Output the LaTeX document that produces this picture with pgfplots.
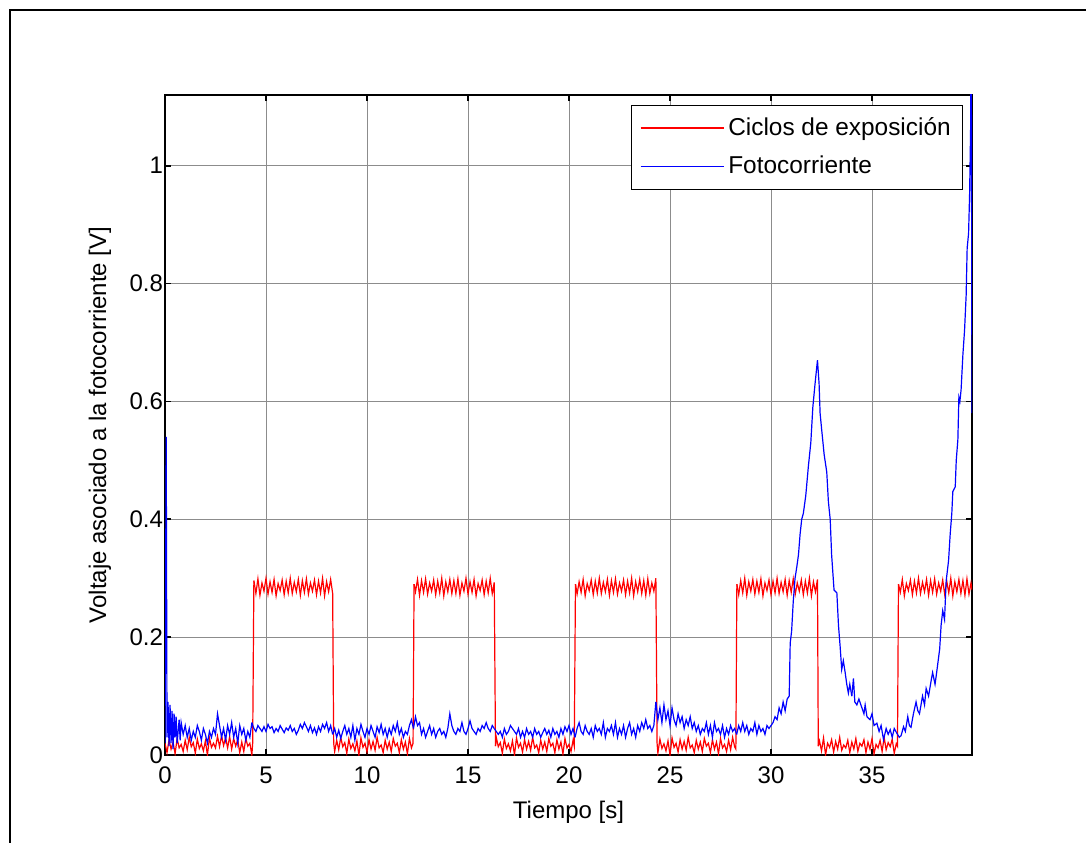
\documentclass[border=0pt]{standalone}
\usepackage{fontspec}
\setmainfont{Liberation Sans}
\usepackage{pgfplots}
\pgfplotsset{compat=1.18}
\pgfplotsset{
  rs/.style={color=red, line width=0.6pt, forget plot},
  bs/.style={color=blue, line width=0.6pt, forget plot},
}
\begin{document}
\begin{tikzpicture}
\useasboundingbox (-82.5pt,-43.5pt) rectangle (460.5pt,377.5pt);
\draw[line width=1pt] (-77.5pt,-60pt) -- (-77.5pt,372.5pt) -- (480pt,372.5pt);
\begin{axis}[
  at={(0pt,0pt)}, anchor=south west,
  scale only axis, width=403.5pt, height=330pt,
  xmin=0, xmax=39.95, ymin=0, ymax=1.12,
  xtick={0,5,10,15,20,25,30,35},
  ytick={0,0.2,0.4,0.6,0.8,1},
  /pgf/number format/assume math mode=true,
  /pgf/number format/fixed,
  tick label style={font=\fontsize{12}{14}\selectfont},
  xticklabel style={yshift=-2.5pt},
  yticklabel style={xshift=2.5pt},
  label style={font=\fontsize{12}{14}\selectfont},
  xlabel={Tiempo [s]},
  ylabel={Voltaje asociado a la fotocorriente [V]},
  xlabel style={at={(axis description cs:0.5,-0.0864)}, anchor=center},
  ylabel style={at={(axis description cs:-0.0805,0.5)}, anchor=center},
  grid=major,
  major grid style={black!45, line width=0.5pt},
  axis line style={black, line width=0.8pt},
  tick style={black, line width=0.8pt},
  major tick length=3pt,
  tick align=inside,
  legend style={at={(axis description cs:0.989,0.985)}, anchor=north east,
    fill=white, font=\fontsize{12.2}{14}\selectfont,
    inner xsep=4pt, inner ysep=4pt, row sep=5pt, cells={anchor=west}},
  legend image code/.code={\path (-2pt,0pt) -- (39.5pt,0pt); \draw[#1] (2.5pt,0pt) -- (39pt,0pt);},
]
\addlegendimage{color=red, line width=0.8pt}
\addlegendentry{Ciclos de exposición}
\addlegendimage{color=blue, line width=0.8pt}
\addlegendentry{Fotocorriente}
% Ciclos de exposicion (red)
\addplot[rs] coordinates {
(0.0,0.02)(0.1,0.004)(0.2,0.026)(0.3,0.01)(0.4,0.022)(0.5,0.002)(0.6,0.028)(0.7,0.012)(0.8,0.018)(0.9,0.006)
(1.0,0.025)(1.1,0.009)(1.2,0.03)(1.3,0.014)(1.4,0.021)(1.5,0.003)(1.6,0.027)(1.7,0.011)(1.8,0.019)(1.9,0.007)
(2.0,0.024)(2.1,0.0)(2.2,0.029)(2.3,0.013)(2.4,0.02)(2.5,0.012)(2.6,0.032)(2.7,0.014)(2.8,0.033)(2.9,0.016)
(3.0,0.03)(3.1,0.012)(3.2,0.031)(3.3,0.01)(3.4,0.028)(3.5,0.015)(3.6,0.026)(3.7,0.004)(3.8,0.022)(3.9,0.006)
(4.0,0.028)(4.1,0.015)(4.2,0.02)(4.3,0.0)(4.34,0.02)(4.4,0.296)};
\addplot[rs] coordinates {
(4.4,0.296)(4.5,0.274)(4.6,0.299)(4.7,0.271)(4.8,0.292)(4.9,0.278)(5.0,0.3)(5.1,0.273)(5.2,0.294)(5.3,0.276)
(5.4,0.298)(5.5,0.27)(5.6,0.291)(5.7,0.279)(5.8,0.297)(5.9,0.272)(6.0,0.295)(6.1,0.275)(6.2,0.3)(6.3,0.274)
(6.4,0.293)(6.5,0.277)(6.6,0.298)(6.7,0.271)(6.8,0.296)(6.9,0.276)(7.0,0.299)(7.1,0.273)(7.2,0.292)(7.3,0.278)
(7.4,0.297)(7.5,0.272)(7.6,0.295)(7.7,0.275)(7.8,0.3)(7.9,0.27)(8.0,0.294)(8.1,0.277)(8.2,0.298)(8.3,0.274)
(8.35,0.02)};
\addplot[rs] coordinates {
(8.35,0.02)(8.4,0.006)(8.5,0.025)(8.6,0.009)(8.7,0.03)(8.8,0.014)(8.9,0.021)(9.0,0.003)(9.1,0.027)(9.2,0.011)(9.3,0.019)
(9.4,0.007)(9.5,0.024)(9.6,0.0)(9.7,0.029)(9.8,0.013)(9.9,0.02)(10.0,0.005)(10.1,0.026)(10.2,0.01)(10.3,0.023)
(10.4,0.008)(10.5,0.03)(10.6,0.012)(10.7,0.017)(10.8,0.004)(10.9,0.025)(11.0,0.01)(11.1,0.022)(11.2,0.006)(11.3,0.028)
(11.4,0.015)(11.5,0.02)(11.6,0.004)(11.7,0.026)(11.8,0.01)(11.9,0.022)(12.0,0.002)(12.1,0.028)(12.2,0.012)(12.28,0.02)
(12.33,0.29)};
\addplot[rs] coordinates {
(12.33,0.29)(12.4,0.277)(12.5,0.298)(12.6,0.271)(12.7,0.296)(12.8,0.276)(12.9,0.299)(13.0,0.273)(13.1,0.292)(13.2,0.278)(13.3,0.297)
(13.4,0.272)(13.5,0.295)(13.6,0.275)(13.7,0.3)(13.8,0.27)(13.9,0.294)(14.0,0.277)(14.1,0.298)(14.2,0.274)(14.3,0.296)
(14.4,0.274)(14.5,0.299)(14.6,0.271)(14.7,0.292)(14.8,0.278)(14.9,0.3)(15.0,0.273)(15.1,0.294)(15.2,0.276)(15.3,0.298)
(15.4,0.27)(15.5,0.291)(15.6,0.279)(15.7,0.297)(15.8,0.272)(15.9,0.295)(16.0,0.275)(16.1,0.3)(16.2,0.274)(16.3,0.293)
(16.36,0.015)};
\addplot[rs] coordinates {
(16.36,0.015)(16.4,0.03)(16.5,0.014)(16.6,0.021)(16.7,0.003)(16.8,0.027)(16.9,0.011)(17.0,0.019)(17.1,0.007)(17.2,0.024)(17.3,0.0)
(17.4,0.029)(17.5,0.013)(17.6,0.02)(17.7,0.005)(17.8,0.026)(17.9,0.01)(18.0,0.023)(18.1,0.008)(18.2,0.03)(18.3,0.012)
(18.4,0.017)(18.5,0.004)(18.6,0.025)(18.7,0.01)(18.8,0.022)(18.9,0.006)(19.0,0.028)(19.1,0.015)(19.2,0.02)(19.3,0.004)
(19.4,0.026)(19.5,0.01)(19.6,0.022)(19.7,0.002)(19.8,0.028)(19.9,0.012)(20.0,0.018)(20.1,0.006)(20.2,0.025)(20.26,0.015)
(20.32,0.29)};
\addplot[rs] coordinates {
(20.32,0.29)(20.4,0.273)(20.5,0.294)(20.6,0.276)(20.7,0.298)(20.8,0.27)(20.9,0.291)(21.0,0.279)(21.1,0.297)(21.2,0.272)(21.3,0.295)
(21.4,0.275)(21.5,0.3)(21.6,0.274)(21.7,0.293)(21.8,0.277)(21.9,0.298)(22.0,0.271)(22.1,0.296)(22.2,0.276)(22.3,0.299)
(22.4,0.273)(22.5,0.292)(22.6,0.278)(22.7,0.297)(22.8,0.272)(22.9,0.295)(23.0,0.275)(23.1,0.3)(23.2,0.27)(23.3,0.294)
(23.4,0.277)(23.5,0.298)(23.6,0.274)(23.7,0.296)(23.8,0.271)(23.9,0.299)(24.0,0.274)(24.1,0.292)(24.2,0.278)(24.3,0.3)
(24.36,0.02)};
\addplot[rs] coordinates {
(24.36,0.02)(24.4,0.003)(24.5,0.027)(24.6,0.011)(24.7,0.019)(24.8,0.007)(24.9,0.024)(25.0,0.0)(25.1,0.029)(25.2,0.013)(25.3,0.02)
(25.4,0.005)(25.5,0.026)(25.6,0.01)(25.7,0.023)(25.8,0.008)(25.9,0.03)(26.0,0.012)(26.1,0.017)(26.2,0.004)(26.3,0.025)
(26.4,0.01)(26.5,0.022)(26.6,0.006)(26.7,0.028)(26.8,0.015)(26.9,0.02)(27.0,0.004)(27.1,0.026)(27.2,0.01)(27.3,0.022)
(27.4,0.002)(27.5,0.028)(27.6,0.012)(27.7,0.018)(27.8,0.006)(27.9,0.025)(28.0,0.009)(28.1,0.03)(28.2,0.014)(28.26,0.01)
(28.31,0.29)};
\addplot[rs] coordinates {
(28.31,0.29)(28.4,0.272)(28.5,0.296)(28.6,0.275)(28.7,0.3)(28.8,0.271)(28.9,0.294)(29.0,0.278)(29.1,0.298)(29.2,0.273)(29.3,0.295)
(29.4,0.276)(29.5,0.299)(29.6,0.27)(29.7,0.292)(29.8,0.279)(29.9,0.297)(30.0,0.272)(30.1,0.295)(30.2,0.275)(30.3,0.3)
(30.4,0.274)(30.5,0.293)(30.6,0.277)(30.7,0.298)(30.8,0.271)(30.9,0.296)(31.0,0.276)(31.1,0.299)(31.2,0.273)(31.3,0.292)
(31.4,0.278)(31.5,0.297)(31.6,0.272)(31.7,0.295)(31.8,0.275)(31.9,0.3)(32.0,0.27)(32.1,0.294)(32.2,0.277)(32.3,0.298)
(32.34,0.015)};
\addplot[rs] coordinates {
(32.34,0.015)(32.4,0.024)(32.5,0.007)(32.6,0.029)(32.7,0.0)(32.8,0.02)(32.9,0.013)(33.0,0.026)(33.1,0.005)(33.2,0.023)(33.3,0.01)
(33.4,0.03)(33.5,0.008)(33.6,0.017)(33.7,0.012)(33.8,0.025)(33.9,0.004)(34.0,0.022)(34.1,0.01)(34.2,0.028)(34.3,0.006)
(34.4,0.02)(34.5,0.015)(34.6,0.026)(34.7,0.004)(34.8,0.022)(34.9,0.01)(35.0,0.028)(35.1,0.002)(35.2,0.018)(35.3,0.012)
(35.4,0.025)(35.5,0.006)(35.6,0.03)(35.7,0.009)(35.8,0.021)(35.9,0.014)(36.0,0.027)(36.1,0.003)(36.2,0.019)(36.26,0.015)
(36.31,0.29)};
\addplot[rs] coordinates {
(36.31,0.29)(36.4,0.276)(36.5,0.298)(36.6,0.27)(36.7,0.291)(36.8,0.279)(36.9,0.297)(37.0,0.272)(37.1,0.295)(37.2,0.275)(37.3,0.3)
(37.4,0.274)(37.5,0.293)(37.6,0.277)(37.7,0.298)(37.8,0.271)(37.9,0.296)(38.0,0.276)(38.1,0.299)(38.2,0.273)(38.3,0.292)
(38.4,0.278)(38.5,0.297)(38.6,0.272)(38.7,0.295)(38.8,0.275)(38.9,0.3)(39.0,0.27)(39.1,0.294)(39.2,0.277)(39.3,0.298)
(39.4,0.274)(39.5,0.296)(39.6,0.271)(39.7,0.299)(39.8,0.273)(39.9,0.292)(39.95,0.28)};
% Fotocorriente (blue)
\addplot[bs] coordinates {
(0.0,0.02)(0.06,0.54)(0.1,0.03)(0.15,0.09)(0.2,0.015)(0.25,0.085)(0.3,0.02)(0.35,0.075)(0.4,0.01)(0.45,0.07)(0.5,0.03)
(0.55,0.065)(0.6,0.02)(0.7,0.06)(0.75,0.025)(0.8,0.055)(0.9,0.035)(1.0,0.05)(1.1,0.03)(1.2,0.045)(1.3,0.025)
(1.4,0.04)(1.5,0.03)(1.6,0.05)(1.7,0.04)(1.8,0.025)(1.9,0.045)(2.0,0.035)(2.1,0.02)(2.2,0.04)(2.3,0.03)
(2.4,0.045)(2.5,0.035)(2.6,0.07)(2.7,0.05)(2.8,0.03)(2.9,0.045)(3.0,0.025)(3.1,0.05)(3.2,0.035)(3.3,0.055)
(3.4,0.03)(3.5,0.045)(3.6,0.02)(3.7,0.05)(3.8,0.035)(3.9,0.045)(4.0,0.025)(4.1,0.04)(4.2,0.03)(4.3,0.055)};
\addplot[bs] coordinates {
(4.3,0.055)(4.4,0.045)(4.5,0.04)(4.6,0.05)(4.7,0.045)(4.8,0.04)(4.9,0.048)(5.0,0.04)(5.1,0.052)(5.2,0.045)(5.3,0.048)
(5.4,0.038)(5.5,0.045)(5.6,0.04)(5.7,0.05)(5.8,0.044)(5.9,0.038)(6.0,0.046)(6.1,0.042)(6.2,0.05)(6.3,0.04)
(6.4,0.045)(6.5,0.035)(6.6,0.042)(6.7,0.052)(6.8,0.045)(6.9,0.055)(7.0,0.048)(7.1,0.04)(7.2,0.05)(7.3,0.038)
(7.4,0.046)(7.5,0.035)(7.6,0.048)(7.7,0.04)(7.8,0.052)(7.9,0.045)(8.0,0.055)(8.1,0.04)(8.2,0.05)(8.3,0.035)};
\addplot[bs] coordinates {
(8.3,0.035)(8.4,0.045)(8.5,0.03)(8.6,0.042)(8.7,0.028)(8.8,0.04)(8.9,0.05)(9.0,0.035)(9.1,0.045)(9.2,0.03)(9.3,0.05)
(9.4,0.025)(9.5,0.045)(9.6,0.035)(9.7,0.052)(9.8,0.04)(9.9,0.03)(10.0,0.045)(10.1,0.035)(10.2,0.05)(10.3,0.04)
(10.4,0.03)(10.5,0.048)(10.6,0.038)(10.7,0.052)(10.8,0.035)(10.9,0.045)(11.0,0.03)(11.1,0.045)(11.2,0.035)(11.3,0.05)
(11.4,0.04)(11.5,0.055)(11.6,0.035)(11.7,0.045)(11.8,0.03)(11.9,0.04)(12.0,0.035)(12.1,0.05)(12.2,0.06)(12.3,0.045)};
\addplot[bs] coordinates {
(12.3,0.045)(12.4,0.065)(12.5,0.05)(12.6,0.055)(12.7,0.035)(12.8,0.045)(12.9,0.03)(13.0,0.04)(13.1,0.05)(13.2,0.035)(13.3,0.045)
(13.4,0.03)(13.5,0.04)(13.6,0.045)(13.7,0.035)(13.8,0.04)(13.9,0.03)(14.0,0.045)(14.1,0.07)(14.2,0.05)(14.3,0.04)
(14.4,0.035)(14.5,0.045)(14.6,0.04)(14.7,0.055)(14.8,0.04)(14.9,0.035)(15.0,0.045)(15.1,0.058)(15.2,0.045)(15.3,0.04)
(15.4,0.035)(15.5,0.045)(15.6,0.04)(15.7,0.05)(15.8,0.045)(15.9,0.055)(16.0,0.045)(16.1,0.04)(16.2,0.05)(16.3,0.045)};
\addplot[bs] coordinates {
(16.3,0.045)(16.4,0.04)(16.5,0.035)(16.6,0.04)(16.7,0.03)(16.8,0.045)(16.9,0.035)(17.0,0.04)(17.1,0.05)(17.2,0.045)(17.3,0.04)
(17.4,0.035)(17.5,0.045)(17.6,0.03)(17.7,0.04)(17.8,0.03)(17.9,0.045)(18.0,0.035)(18.1,0.04)(18.2,0.03)(18.3,0.045)
(18.4,0.035)(18.5,0.04)(18.6,0.03)(18.7,0.038)(18.8,0.045)(18.9,0.035)(19.0,0.042)(19.1,0.03)(19.2,0.045)(19.3,0.035)
(19.4,0.04)(19.5,0.03)(19.6,0.045)(19.7,0.035)(19.8,0.048)(19.9,0.04)(20.0,0.05)(20.1,0.035)(20.2,0.045)(20.3,0.03)};
\addplot[bs] coordinates {
(20.3,0.03)(20.4,0.045)(20.5,0.055)(20.6,0.04)(20.7,0.035)(20.8,0.05)(20.9,0.04)(21.0,0.035)(21.1,0.045)(21.2,0.03)(21.3,0.05)
(21.4,0.04)(21.5,0.045)(21.6,0.035)(21.7,0.055)(21.8,0.03)(21.9,0.045)(22.0,0.04)(22.1,0.05)(22.2,0.035)(22.3,0.055)
(22.4,0.03)(22.5,0.045)(22.6,0.035)(22.7,0.05)(22.8,0.03)(22.9,0.045)(23.0,0.055)(23.1,0.035)(23.2,0.045)(23.3,0.03)
(23.4,0.05)(23.5,0.04)(23.6,0.055)(23.7,0.045)(23.8,0.06)(23.9,0.045)(24.0,0.05)(24.1,0.04)(24.2,0.05)(24.3,0.09)};
\addplot[bs] coordinates {
(24.3,0.09)(24.4,0.06)(24.5,0.08)(24.6,0.055)(24.7,0.085)(24.8,0.06)(24.9,0.075)(25.0,0.05)(25.1,0.08)(25.2,0.06)(25.3,0.05)
(25.4,0.07)(25.5,0.055)(25.6,0.065)(25.7,0.045)(25.8,0.06)(25.9,0.05)(26.0,0.065)(26.1,0.045)(26.2,0.055)(26.3,0.04)
(26.4,0.05)(26.5,0.035)(26.6,0.045)(26.7,0.04)(26.8,0.055)(26.9,0.035)(27.0,0.05)(27.1,0.03)(27.2,0.055)(27.3,0.04)
(27.4,0.045)(27.5,0.035)(27.6,0.05)(27.7,0.03)(27.8,0.045)(27.9,0.035)(28.0,0.05)(28.1,0.04)(28.2,0.045)(28.3,0.035)};
\addplot[bs] coordinates {
(28.3,0.035)(28.4,0.05)(28.5,0.04)(28.6,0.055)(28.7,0.04)(28.8,0.05)(28.9,0.035)(29.0,0.045)(29.1,0.04)(29.2,0.055)(29.3,0.035)
(29.4,0.05)(29.5,0.04)(29.6,0.045)(29.7,0.035)(29.8,0.05)(29.9,0.045)(30.0,0.05)(30.1,0.055)(30.2,0.065)(30.3,0.06)
(30.4,0.08)(30.5,0.07)(30.6,0.09)(30.7,0.075)(30.8,0.095)(30.9,0.1)(30.95,0.19)(31.02,0.21)};
\addplot[bs] coordinates {
(31.02,0.21)(31.1,0.26)(31.19,0.30)(31.28,0.32)(31.36,0.34)(31.44,0.375)(31.52,0.40)(31.6,0.41)(31.72,0.44)(31.85,0.49)
(31.97,0.53)(32.07,0.59)(32.18,0.63)(32.3,0.67)(32.38,0.63)(32.43,0.58)(32.5,0.555)(32.63,0.51)(32.76,0.48)(32.84,0.43)
(32.93,0.40)(33.0,0.34)(33.12,0.28)(33.26,0.275)(33.34,0.22)(33.42,0.185)(33.5,0.145)(33.58,0.16)(33.67,0.14)(33.75,0.12)
(33.83,0.105)(33.9,0.12)(34.0,0.1)};
\addplot[bs] coordinates {
(34.0,0.1)(34.08,0.13)(34.15,0.09)(34.25,0.085)(34.35,0.095)(34.5,0.08)(34.6,0.07)(34.66,0.085)(34.75,0.065)(34.9,0.06)(35.0,0.07)
(35.1,0.05)(35.24,0.054)(35.35,0.04)(35.45,0.05)(35.57,0.026)(35.7,0.045)(35.8,0.035)(35.9,0.043)(36.0,0.03)(36.1,0.045)
(36.23,0.037)(36.35,0.03)(36.44,0.033)(36.56,0.048)(36.65,0.04)(36.77,0.065)(36.85,0.05)(36.93,0.047)(37.05,0.07)};
\addplot[bs] coordinates {
(37.05,0.07)(37.18,0.09)(37.27,0.075)(37.35,0.07)(37.5,0.1)(37.6,0.085)(37.68,0.113)(37.8,0.1)(37.93,0.127)(38.0,0.14)
(38.12,0.12)(38.2,0.14)(38.29,0.164)(38.35,0.18)(38.42,0.22)(38.5,0.245)(38.59,0.23)(38.67,0.295)(38.79,0.33)(38.87,0.375)
(38.95,0.41)(39.0,0.447)(39.12,0.455)(39.17,0.5)(39.25,0.535)(39.3,0.607)(39.35,0.6)(39.41,0.62)(39.5,0.68)(39.58,0.72)
(39.66,0.78)(39.71,0.86)(39.78,0.885)(39.83,0.95)(39.88,1.06)(39.91,1.25)(39.95,0.58)};
\node[font=\fontsize{12}{14}\selectfont, anchor=base] at (axis description cs:0.586,1.024) {.};
\end{axis}
\end{tikzpicture}
\end{document}
